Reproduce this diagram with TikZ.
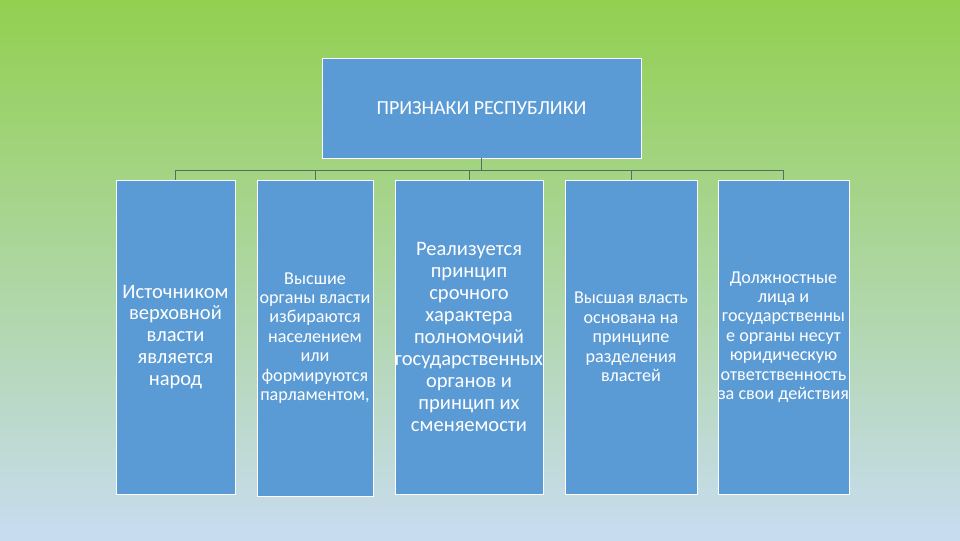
\documentclass[tikz,border=0pt]{standalone}
\usepackage{fontspec}
\setmainfont{Carlito}
\usetikzlibrary{positioning}
\definecolor{bgtop}{RGB}{146,208,80}
\definecolor{bgmid}{RGB}{170,210,150}
\definecolor{bgbot}{RGB}{200,220,240}
\definecolor{boxblue}{RGB}{91,155,213}
\definecolor{linkline}{RGB}{85,110,95}
\begin{document}
\begin{tikzpicture}[x=0.025cm,y=-0.025cm,headbox/.style={draw=white,line width=0.6pt,fill=boxblue,text=white,align=center,minimum width=7.975cm,minimum height=2.5cm,inner sep=0pt,font=\fontsize{14.2}{16}\selectfont},signbox/.style={draw=white,line width=0.6pt,fill=boxblue,text=white,align=center,minimum height=7.85cm,inner sep=0pt},big/.style={font=\fontsize{14.6}{15.6}\selectfont},small/.style={font=\fontsize{12.9}{13.8}\selectfont},link/.style={draw=linkline,line width=0.5pt}]
\useasboundingbox (0,0) rectangle (960,540);
\shade[top color=bgtop,middle color=bgmid,bottom color=bgbot] (0,0) rectangle (960,540);
\node[headbox] (title) at (481.5,108){ПРИЗНАКИ РЕСПУБЛИКИ};
\node[signbox,big,minimum width=2.975cm] (people) at (175.5,337){Источником\\верховной\\власти\\является\\народ};
\node[signbox,small,minimum width=2.9cm,minimum height=7.9cm] (elect) at (315,338){Высшие\\органы власти\\избираются\\населением\\или\\формируются\\парламентом,};
\node[signbox,big,minimum width=3.7cm] (term) at (469,337){Реализуется\\принцип\\срочного\\характера\\полномочий\\государственных\\органов и\\принцип их\\сменяемости};
\node[signbox,small,minimum width=3.3cm] (split) at (631,337){Высшая власть\\основана на\\принципе\\разделения\\властей};
\node[signbox,small,minimum width=3.275cm] (duty) at (783.5,337){Должностные\\лица и\\государственны\\е органы несут\\юридическую\\ответственность\\за свои действия};
\draw[link] (title.south) -- ++(0,12) -| (people.north);\draw[link] (title.south) -- ++(0,12) -| (elect.north);\draw[link] (title.south) -- ++(0,12) -| (term.north);\draw[link] (title.south) -- ++(0,12) -| (split.north);\draw[link] (title.south) -- ++(0,12) -| (duty.north);
\end{tikzpicture}
\end{document}
